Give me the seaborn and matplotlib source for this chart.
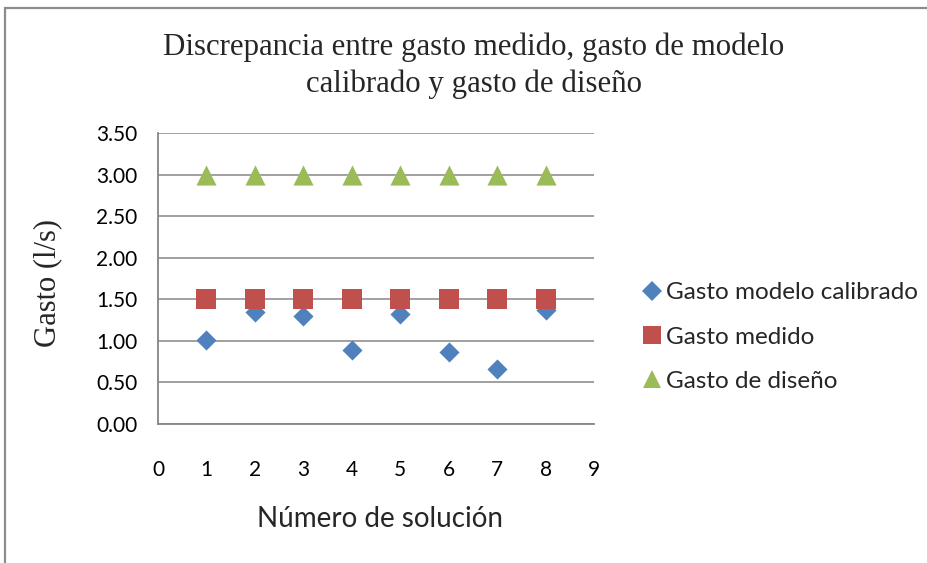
import matplotlib
matplotlib.use("Agg")
import matplotlib.pyplot as plt
import seaborn as sns
import pandas as pd
from matplotlib.lines import Line2D
from matplotlib.patches import Rectangle

# Data
solucion = [1, 2, 3, 4, 5, 6, 7, 8]
gasto_calibrado = [1.01, 1.35, 1.30, 0.89, 1.32, 0.87, 0.66, 1.37]
gasto_medido = [1.5, 1.5, 1.5, 1.5, 1.5, 1.5, 1.5, 1.5]
gasto_diseno = [3.0, 3.0, 3.0, 3.0, 3.0, 3.0, 3.0, 3.0]
series_names = ["Gasto modelo calibrado", "Gasto medido", "Gasto de diseño"]
y_ticks = [0.0, 0.5, 1.0, 1.5, 2.0, 2.5, 3.0, 3.5]
x_ticks = [0, 1, 2, 3, 4, 5, 6, 7, 8, 9]

df = pd.DataFrame({
    "Número de solución": solucion * 3,
    "Gasto": gasto_calibrado + gasto_medido + gasto_diseno,
    "Serie": [series_names[0]] * 8 + [series_names[1]] * 8 + [series_names[2]] * 8,
})

sns.set_theme(style="white")
plt.rcParams["font.family"] = ["Lato", "DejaVu Sans"]

colors = {series_names[0]: "#4F81BD", series_names[1]: "#C0504D", series_names[2]: "#9BBB59"}
markers = {series_names[0]: "D", series_names[1]: "s", series_names[2]: "^"}
sizes = {series_names[0]: 105, series_names[1]: 195, series_names[2]: 210}

fig = plt.figure(figsize=(9.28, 5.63), dpi=100)
ax = fig.add_axes([158 / 928, 1 - 424 / 563, (594 - 158) / 928, (424 - 133) / 563])

grid_c = "#868686"
for name in series_names:
    sub = df[df["Serie"] == name]
    sns.scatterplot(data=sub, x="Número de solución", y="Gasto", ax=ax,
                    color=colors[name], marker=markers[name], s=sizes[name],
                    linewidth=0, legend=False, zorder=3)

ax.set_xlim(0, 9)
ax.set_ylim(0, 3.5)
ax.set_xticks(x_ticks)
ax.set_yticks(y_ticks)
ax.set_yticklabels([f"{v:.2f}" for v in y_ticks])
ax.yaxis.grid(True, color=grid_c, linewidth=1.1)
ax.set_axisbelow(True)
for side in ["top", "right"]:
    ax.spines[side].set_visible(False)
for side in ["left", "bottom"]:
    ax.spines[side].set_color(grid_c)
    ax.spines[side].set_linewidth(1.3)
ax.tick_params(axis="both", which="both", direction="out", color=grid_c,
               width=1.2, labelsize=15, colors="black")
ax.tick_params(axis="y", length=5, pad=10)
ax.tick_params(axis="x", length=6, pad=20)
for lab in ax.get_xticklabels() + ax.get_yticklabels():
    lab.set_color("black")

ax.set_xlabel("")
ax.set_ylabel("")
fig.text(380 / 928, 1 - 519 / 563, "Número de solución", ha="center", va="center",
         fontsize=20, family=["Lato", "DejaVu Sans"])
fig.text(48 / 928, 1 - 283 / 563, "Gasto (l/s)", ha="center", va="center",
         rotation=90, fontsize=22, family=["Liberation Serif", "DejaVu Serif"])
fig.text(474 / 928, 1 - 66 / 563,
         "Discrepancia entre gasto medido, gasto de modelo\ncalibrado y gasto de diseño",
         ha="center", va="center", fontsize=22.2, linespacing=1.35,
         family=["Liberation Serif", "DejaVu Serif"])

handles = [Line2D([], [], linestyle="none", marker=markers[n], color=colors[n],
                  markersize=(10.5 if markers[n] == "D" else 13.5), markeredgewidth=0)
           for n in series_names]
fig.legend(handles, series_names, loc="center left",
           bbox_to_anchor=(631 / 928, 1 - 337 / 563), frameon=False,
           fontsize=17.5, handlelength=0.7, handletextpad=0.25, labelspacing=0.95,
           borderpad=0)

# chart frame
fig.add_artist(Rectangle((5 / 928, -0.05), 1.1, 1 - 8 / 563 + 0.05,
                         transform=fig.transFigure, fill=False,
                         edgecolor="#8c8c8c", linewidth=1.6))

fig.savefig("out.png", dpi=100, facecolor="white")
